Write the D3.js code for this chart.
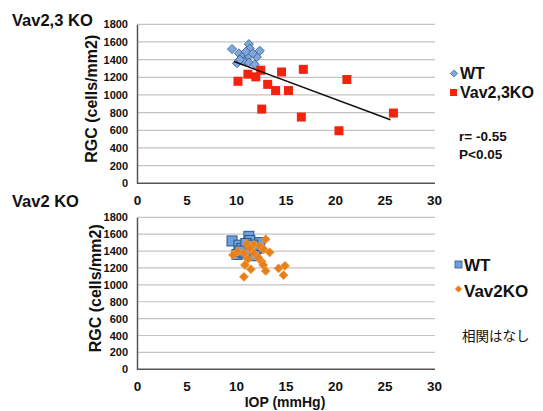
<!DOCTYPE html>
<html lang="ja">
<head>
<meta charset="UTF-8">
<title>RGC vs IOP</title>
<script src="https://d3js.org/d3.v7.min.js"></script>
<style>
  body { margin: 0; background: #fff; }
  text { font-family: "Liberation Sans", Arial, sans-serif; font-weight: bold; fill: #111; }
</style>
</head>
<body>
<script>
// axis ticks
var xTicks = [0, 5, 10, 15, 20, 25, 30];
var yTicks = [0, 200, 400, 600, 800, 1000, 1200, 1400, 1600, 1800];

// WT (same animals in both panels)
var wtIop = [9.6, 10.3, 10.6, 11.3, 11.4, 11.3, 12.1, 12.4, 10.1, 10.8, 11.3, 11.9, 11.0, 11.7, 10.4];
var wtRgc = [1520, 1470, 1430, 1575, 1525, 1440, 1430, 1500, 1360, 1380, 1365, 1345, 1490, 1470, 1400];

// Vav2,3 KO
var v23Iop = [10.2, 11.2, 12.0, 12.5, 13.2, 14.0, 14.6, 15.3, 12.6, 16.8, 21.2, 16.6, 20.4, 25.9];
var v23Rgc = [1155, 1235, 1205, 1280, 1120, 1050, 1260, 1050, 840, 1290, 1175, 750, 595, 795];

// trend line ends (Vav2,3 KO panel)
var trendIop = [9.8, 25.6];
var trendRgc = [1378, 720];

// Vav2 KO
var v2Iop = [9.7, 10.2, 10.8, 11.1, 11.8, 12.4, 13.0, 11.4, 12.8, 13.4, 11.8, 11.2, 10.9, 11.5, 12.6, 12.75, 13.0, 10.8, 14.3, 14.95, 14.8, 12.25];
var v2Rgc = [1355, 1395, 1375, 1485, 1475, 1460, 1540, 1435, 1420, 1385, 1375, 1305, 1235, 1185, 1275, 1235, 1165, 1095, 1195, 1225, 1115, 1325];

var svg = d3.select("body").append("svg")
    .attr("width", 543)
    .attr("height", 411);

function diamond(cx, cy, r) {
  return "M" + cx + "," + (cy - r) + "L" + (cx + r) + "," + cy + "L" + cx + "," + (cy + r) + "L" + (cx - r) + "," + cy + "Z";
}

function pts(xs, ys) {
  return xs.map(function(d, i) { return {x: d, y: ys[i]}; });
}

function panel(top, bottom, titleX) {
  var x = d3.scaleLinear().domain([0, 30]).range([137, 434]);
  var y = d3.scaleLinear().domain([0, 1800]).range([bottom, top]);
  var g = svg.append("g");

  g.selectAll(".grid").data(yTicks.slice(1)).enter().append("line")
    .attr("x1", 137).attr("x2", 435)
    .attr("y1", function(d) { return y(d); }).attr("y2", function(d) { return y(d); })
    .attr("stroke", "#c4c4c4").attr("stroke-width", 1.2);

  var ax = g.append("g").attr("transform", "translate(0," + bottom + ")")
    .call(d3.axisBottom(x).tickValues(xTicks).tickFormat(d3.format("d")).tickSize(0).tickPadding(12));
  ax.select(".domain").attr("stroke", "#555").attr("stroke-width", 1.5).attr("d", "M137,0H435");
  ax.selectAll("text").attr("font-size", 13.5).style("font-family", "Liberation Sans, Arial").style("font-weight", "bold").attr("fill", "#111");

  var ay = g.append("g").attr("transform", "translate(137,0)")
    .call(d3.axisLeft(y).tickValues(yTicks).tickFormat(d3.format("d")).tickSize(0).tickPadding(9));
  ay.select(".domain").attr("stroke", "#555").attr("stroke-width", 1.5);
  ay.selectAll("text").attr("font-size", 11).style("font-family", "Liberation Sans, Arial").style("font-weight", "bold").attr("fill", "#111");

  g.append("text")
    .attr("transform", "translate(" + titleX + "," + ((top + bottom) / 2 - 5) + ") rotate(-90)")
    .attr("text-anchor", "middle")
    .attr("font-size", 16)
    .text("RGC (cells/mm2)");

  return {g: g, x: x, y: y};
}

// --- top panel: Vav2,3 KO
var p1 = panel(24.3, 183.3, 97);
svg.append("text").attr("x", 12).attr("y", 26).attr("font-size", 16.5).text("Vav2,3 KO");

p1.g.selectAll(".wt").data(pts(wtIop, wtRgc)).enter().append("path")
  .attr("d", function(d) { return diamond(p1.x(d.x), p1.y(d.y), 4.6); })
  .attr("fill", "#7fa7dc").attr("stroke", "#35598c").attr("stroke-width", 0.8);

p1.g.selectAll(".ko").data(pts(v23Iop, v23Rgc)).enter().append("rect")
  .attr("x", function(d) { return p1.x(d.x) - 4.5; })
  .attr("y", function(d) { return p1.y(d.y) - 4.5; })
  .attr("width", 9).attr("height", 9)
  .attr("fill", "#f4230e");

p1.g.append("path")
  .attr("d", d3.line().x(function(d) { return p1.x(d.x); }).y(function(d) { return p1.y(d.y); })(pts(trendIop, trendRgc)))
  .attr("stroke", "#111").attr("stroke-width", 1.6).attr("fill", "none");

// legend top
svg.append("path").attr("d", diamond(454, 73.5, 3.6)).attr("fill", "#7fa7dc").attr("stroke", "#35598c").attr("stroke-width", 0.7);
svg.append("text").attr("x", 460).attr("y", 78.5).attr("font-size", 16).text("WT");
svg.append("rect").attr("x", 450).attr("y", 89).attr("width", 7).attr("height", 7).attr("fill", "#f4230e");
svg.append("text").attr("x", 460).attr("y", 97.5).attr("font-size", 16).text("Vav2,3KO");
svg.append("text").attr("x", 459).attr("y", 141).attr("font-size", 13.5).text("r= -0.55");
svg.append("text").attr("x", 459).attr("y", 159).attr("font-size", 13.5).text("P<0.05");

// --- bottom panel: Vav2 KO
var p2 = panel(217.3, 369.3, 101);
svg.append("text").attr("x", 12).attr("y", 207).attr("font-size", 16.5).text("Vav2 KO");

p2.g.selectAll(".wt").data(pts(wtIop, wtRgc)).enter().append("rect")
  .attr("x", function(d) { return p2.x(d.x) - 5; })
  .attr("y", function(d) { return p2.y(d.y) - 5; })
  .attr("width", 10).attr("height", 10)
  .attr("fill", "#6c9fdb").attr("stroke", "#2e5688").attr("stroke-width", 1);

p2.g.selectAll(".ko").data(pts(v2Iop, v2Rgc)).enter().append("path")
  .attr("d", function(d) { return diamond(p2.x(d.x), p2.y(d.y), 4.6); })
  .attr("fill", "#e8801a").attr("stroke", "#f4a65a").attr("stroke-width", 0.6);

svg.append("text").attr("x", 285).attr("y", 407).attr("text-anchor", "middle").attr("font-size", 14).text("IOP (mmHg)");

// legend bottom
svg.append("rect").attr("x", 455).attr("y", 261).attr("width", 7).attr("height", 7).attr("fill", "#6c9fdb").attr("stroke", "#2e5688").attr("stroke-width", 0.8);
svg.append("text").attr("x", 464).attr("y", 271).attr("font-size", 17).text("WT");
svg.append("path").attr("d", diamond(458.5, 289, 3.6)).attr("fill", "#e8801a");
svg.append("text").attr("x", 464).attr("y", 297).attr("font-size", 17).text("Vav2KO");
svg.append("text").attr("x", 462).attr("y", 341).attr("font-size", 13.5)
  .style("font-family", "Noto Sans CJK JP").style("font-weight", "normal").text("相関はなし");
</script>
</body>
</html>
